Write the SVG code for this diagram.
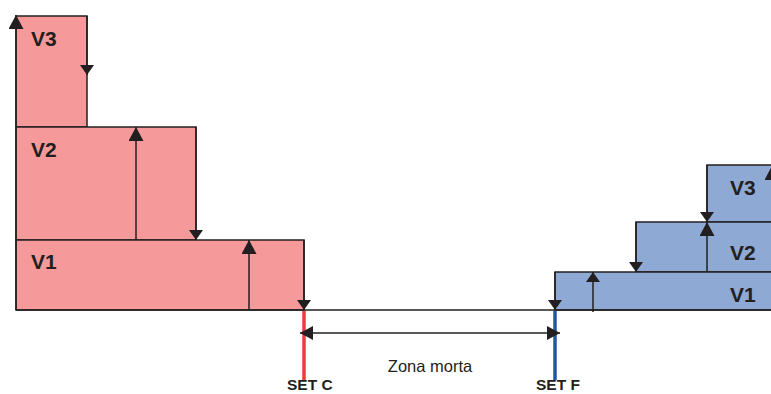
<svg xmlns="http://www.w3.org/2000/svg" width="771" height="394" viewBox="0 0 771 394">
<style>
.pink{fill:#f5999a;stroke:#231f20;stroke-width:1.5}
.blue{fill:#8eaad4;stroke:#231f20;stroke-width:1.5}
.ln{stroke:#231f20;stroke-width:1.5;fill:none}
.lbl{font-family:"Liberation Sans",Arial,sans-serif;font-weight:bold;font-size:21px;fill:#231f20}
.set{font-family:"Liberation Sans",Arial,sans-serif;font-weight:bold;font-size:15.5px;fill:#231f20}
.zm{font-family:"Liberation Sans",Arial,sans-serif;font-size:16.5px;fill:#231f20}
</style>
<defs>
<marker id="big" viewBox="0 0 10 10" refX="10" refY="5" markerUnits="userSpaceOnUse" markerWidth="14" markerHeight="15" orient="auto" preserveAspectRatio="none"><path d="M0,0L10,5L0,10z" fill="#231f20"/></marker>
<marker id="sm" viewBox="0 0 10 10" refX="10" refY="5" markerUnits="userSpaceOnUse" markerWidth="10" markerHeight="14" orient="auto" preserveAspectRatio="none"><path d="M0,0L10,5L0,10z" fill="#231f20"/></marker>
<marker id="dim" viewBox="0 0 10 10" refX="10" refY="5" markerUnits="userSpaceOnUse" markerWidth="13" markerHeight="14" orient="auto-start-reverse" preserveAspectRatio="none"><path d="M0,0L10,5L0,10z" fill="#231f20"/></marker>
</defs>
<g id="cool-side">
<g id="pink-v3"><rect class="pink" x="16" y="16" width="71" height="111"/><text class="lbl" x="31" y="46">V3</text></g>
<g id="pink-v2"><rect class="pink" x="16" y="127" width="180" height="113"/><text class="lbl" x="31" y="157">V2</text></g>
<g id="pink-v1"><rect class="pink" x="16" y="240" width="288" height="70"/><text class="lbl" x="31" y="269">V1</text></g>
</g>
<g id="heat-side">
<g id="blue-v3"><rect class="blue" x="707" y="165" width="80" height="57"/><text class="lbl" x="730" y="195">V3</text></g>
<g id="blue-v2"><rect class="blue" x="636" y="222" width="151" height="50"/><text class="lbl" x="730" y="260">V2</text></g>
<g id="blue-v1"><rect class="blue" x="555" y="272" width="232" height="38"/><text class="lbl" x="730" y="302">V1</text></g>
</g>
<g id="connectors">
<line class="ln" x1="16" y1="310" x2="771" y2="310"/>
<line class="ln" x1="16" y1="310" x2="16" y2="15" marker-end="url(#big)"/>
<line class="ln" x1="87" y1="16" x2="87" y2="75" marker-end="url(#sm)"/>
<line class="ln" x1="136" y1="240" x2="136" y2="127" marker-end="url(#big)"/>
<line class="ln" x1="196" y1="127" x2="196" y2="240" marker-end="url(#sm)"/>
<line class="ln" x1="249" y1="310" x2="249" y2="240" marker-end="url(#big)"/>
<line class="ln" x1="304" y1="240" x2="304" y2="310" marker-end="url(#sm)"/>
<line class="ln" x1="555" y1="272" x2="555" y2="310" marker-end="url(#sm)"/>
<line class="ln" x1="593" y1="312" x2="593" y2="272" marker-end="url(#sm)"/>
<line class="ln" x1="636" y1="222" x2="636" y2="272" marker-end="url(#sm)"/>
<line class="ln" x1="707" y1="272" x2="707" y2="222" marker-end="url(#big)"/>
<line class="ln" x1="707" y1="165" x2="707" y2="222" marker-end="url(#sm)"/>
<line class="ln" x1="772" y1="222" x2="772" y2="166" marker-end="url(#big)"/>
<line x1="304" y1="311" x2="304" y2="380" stroke="#ef3a3f" stroke-width="3.5"/>
<line x1="555" y1="311" x2="555" y2="380" stroke="#1f56a5" stroke-width="3.5"/>
<line class="ln" x1="300" y1="333" x2="560" y2="333" marker-start="url(#dim)" marker-end="url(#dim)"/>
</g>
<g id="labels">
<text class="zm" x="430" y="372" text-anchor="middle">Zona morta</text>
<text class="set" x="287" y="390">SET C</text>
<text class="set" x="536" y="390">SET F</text>
</g>
</svg>
